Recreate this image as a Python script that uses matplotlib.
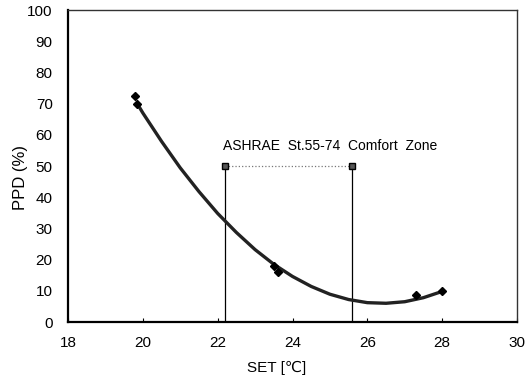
import matplotlib
matplotlib.use("Agg")
import matplotlib.pyplot as plt

plt.rcParams['font.family'] = ['Liberation Sans', 'DejaVu Sans']

# measured points
set_pts = [19.8, 19.85, 23.5, 23.6, 27.3, 28.0]
ppd_pts = [72.5, 70.0, 18.0, 16.0, 8.5, 10.0]

# trend curve
curve_set = [19.85, 20.0, 20.5, 21.0, 21.5, 22.0, 22.5, 23.0, 23.5, 24.0,
             24.5, 25.0, 25.5, 26.0, 26.5, 27.0, 27.5, 28.0]
curve_ppd = [70.0, 67.0, 57.9, 49.4, 41.8, 34.8, 28.7, 23.2, 18.5, 14.6,
             11.4, 8.9, 7.2, 6.2, 6.0, 6.5, 7.8, 9.8]

# ASHRAE comfort zone limits
zone_set = [22.2, 25.6]
zone_ppd = 50
zone_label = "ASHRAE  St.55-74  Comfort  Zone"

fig = plt.figure(figsize=(5.3, 3.78), dpi=100)
ax = fig.add_axes([68 / 530, 1 - 322 / 378, 449 / 530, 312 / 378])

ax.plot(curve_set, curve_ppd, color='#222222', lw=2.4, zorder=3)
ax.plot(set_pts, ppd_pts, linestyle='none', marker='D', ms=4.5,
        color='black', zorder=4)

for xz in zone_set:
    ax.plot([xz, xz], [0, zone_ppd], color='black', lw=0.9, zorder=2)
ax.plot(zone_set, [zone_ppd, zone_ppd], color='#777777', lw=0.9,
        linestyle=':', marker='s', ms=4.5, mfc='#555555', mec='black', zorder=3)
ax.text(25.0, 55.0, zone_label, ha='center', va='baseline', fontsize=10)

ax.set_xlim(18, 30)
ax.set_ylim(0, 100)
ax.set_xticks(range(18, 31, 2))
ax.set_yticks(range(0, 101, 10))
ax.tick_params(direction='in', length=3, labelsize=11, pad=10)
ax.tick_params(axis='y', length=0, pad=11)

for s in ['left', 'bottom']:
    ax.spines[s].set_linewidth(1.6)
for s in ['top', 'right']:
    ax.spines[s].set_linewidth(1.0)
    ax.spines[s].set_color('#333333')

fig.text(277 / 530, 1 - 368 / 378, "SET [℃]", ha='center', va='center',
         fontsize=11)
fig.text(20 / 530, 1 - 177 / 378, "PPD (%)", ha='center', va='center',
         rotation=90, fontsize=12)

fig.savefig("out.png", dpi=100)
